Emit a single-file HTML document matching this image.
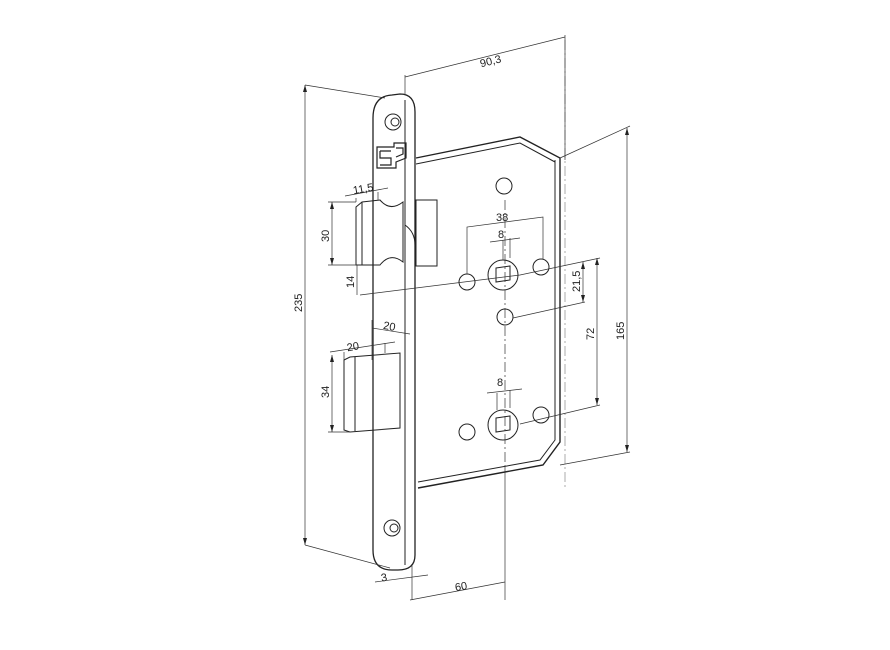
<!DOCTYPE html>
<html><head><meta charset="utf-8"><style>
html,body{margin:0;padding:0;background:#fff;}
svg{display:block}
text{font-family:"Liberation Sans",sans-serif;font-size:11px;fill:#222}
</style></head><body>
<svg width="890" height="650" viewBox="0 0 890 650" xmlns="http://www.w3.org/2000/svg">
<g fill="none" stroke="#222" stroke-width="1">
<path d="M416 158 L520 137 L560 158 L560 442 L543 465 L418 488" stroke-width="1.4"/>
<path d="M416 164 L520 143 L555 162" />
<path d="M418 482 L540 460 L555 440 L555 160" />
<path d="M373 118 Q373 96 392 95 L400 94 Q415 94 415 112 L415 555 Q415 570 398 570 L392 570 Q373 570 373 550 Z" stroke-width="1.3"/>
<path d="M405 100 L405 565" />
<circle cx="393" cy="122" r="8"/><circle cx="395" cy="122" r="4"/>
<circle cx="392" cy="528" r="8"/><circle cx="394" cy="528" r="4"/>
<path d="M377 147 L394 147 L394 143 L406 143 L406 158 L396 162 L396 168 L377 168 Z M380 151 L391 151 M380 151 L380 158 L391 158 L391 165 L380 165 M396 148 L403 148 L403 154 L396 157" stroke-width="1.2"/>
<rect x="416" y="200" width="21" height="66"/>
<path d="M405 225 Q415 232 415 245"/>
<path d="M356 207 L362 202 L380 200 Q390 212 403 202 L403 262 Q390 252 380 265 L360 265 L356 265 Z"/>
<path d="M362 202 L362 265"/>
<path d="M344 360 L350 357 L400 353 L400 428 L350 432 L344 430 Z"/>
<path d="M355 357 L355 431"/>
<circle cx="504" cy="186" r="8"/>
<circle cx="503" cy="275" r="15"/><path d="M496 268 L510 266 L510 280 L496 282 Z"/>
<circle cx="467" cy="282" r="8"/><circle cx="541" cy="267" r="8"/>
<circle cx="505" cy="317" r="8"/>
<circle cx="503" cy="425" r="15"/><path d="M496 418 L510 416 L510 430 L496 432 Z"/>
<circle cx="467" cy="432" r="8"/><circle cx="541" cy="415" r="8"/>
</g>
<g fill="none" stroke="#333" stroke-width="0.7">
<path d="M505 200 L505 465" stroke-dasharray="10 3 2 3"/>
<path d="M505 465 L505 600"/>
<path d="M565 40 L565 490" stroke-dasharray="10 3 2 3" stroke="#888"/>
<path d="M360 295 L520 275 L600 258"/>
<path d="M513 318 L585 302"/>
<path d="M520 424 L600 405"/>
<path d="M560 158 L630 126"/>
<path d="M560 465 L630 452"/>
<path d="M405 95 L405 75 M565 35 L565 160 M405 77 L565 37"/>
<path d="M305 85 L305 545 M305 85 L385 98 M305 545 L390 568"/>
<path d="M627 128 L627 452"/>
<path d="M597 258 L597 405"/>
<path d="M583 262 L583 302"/>
<path d="M467 274 L467 227 L543 217 L543 259 M503 260 L503 240 M510 258 L510 238 M490 242 L520 238"/>
<path d="M497 410 L497 393 M510 408 L510 390 M487 393 L522 389"/>
<path d="M332 202 L332 265 M328 202 L356 202 M328 265 L356 265 M357 265 L357 295"/>
<path d="M345 196 L388 188 M356 198 L356 202 M378 192 L378 200"/>
<path d="M372 328 L410 334 M372 320 L372 360"/>
<path d="M330 352 L395 342 M344 352 L344 360 M385 343 L385 353"/>
<path d="M332 355 L332 432 M328 432 L350 432"/>
<path d="M375 582 L428 575 M412 565 L412 600 M410 600 L505 582"/>
</g>
<g fill="#222">
<path d="M305 85 l-2 7 l4 0 Z M305 545 l-2 -7 l4 0 Z"/>
<path d="M627 128 l-2 7 l4 0 Z M627 452 l-2 -7 l4 0 Z"/>
<path d="M597 258 l-2 7 l4 0 Z M597 405 l-2 -7 l4 0 Z"/>
<path d="M583 262 l-2 7 l4 0 Z M583 302 l-2 -7 l4 0 Z"/>
<path d="M332 202 l-2 7 l4 0 Z M332 265 l-2 -7 l4 0 Z M332 355 l-2 7 l4 0 Z M332 432 l-2 -7 l4 0 Z"/>
</g>
<text x="480" y="65" transform="rotate(-14 490 62)">90,3</text>
<text transform="translate(302 312) rotate(-90)">235</text>
<text transform="translate(624 340) rotate(-90)">165</text>
<text transform="translate(594 340) rotate(-90)">72</text>
<text transform="translate(580 292) rotate(-90)">21,5</text>
<text transform="translate(329 242) rotate(-90)">30</text>
<text transform="translate(354 288) rotate(-90)">14</text>
<text transform="translate(329 398) rotate(-90)">34</text>
<text x="496" y="221">38</text>
<text x="498" y="238">8</text>
<text x="497" y="386">8</text>
<text x="353" y="193" transform="rotate(-10 360 190)">11,5</text>
<text x="383" y="330" transform="rotate(10 390 328)">20</text>
<text x="347" y="350" transform="rotate(-10 355 348)">20</text>
<text x="381" y="581" transform="rotate(-10 385 578)">3</text>
<text x="455" y="590" transform="rotate(-10 462 587)">60</text>
</svg>
</body></html>
